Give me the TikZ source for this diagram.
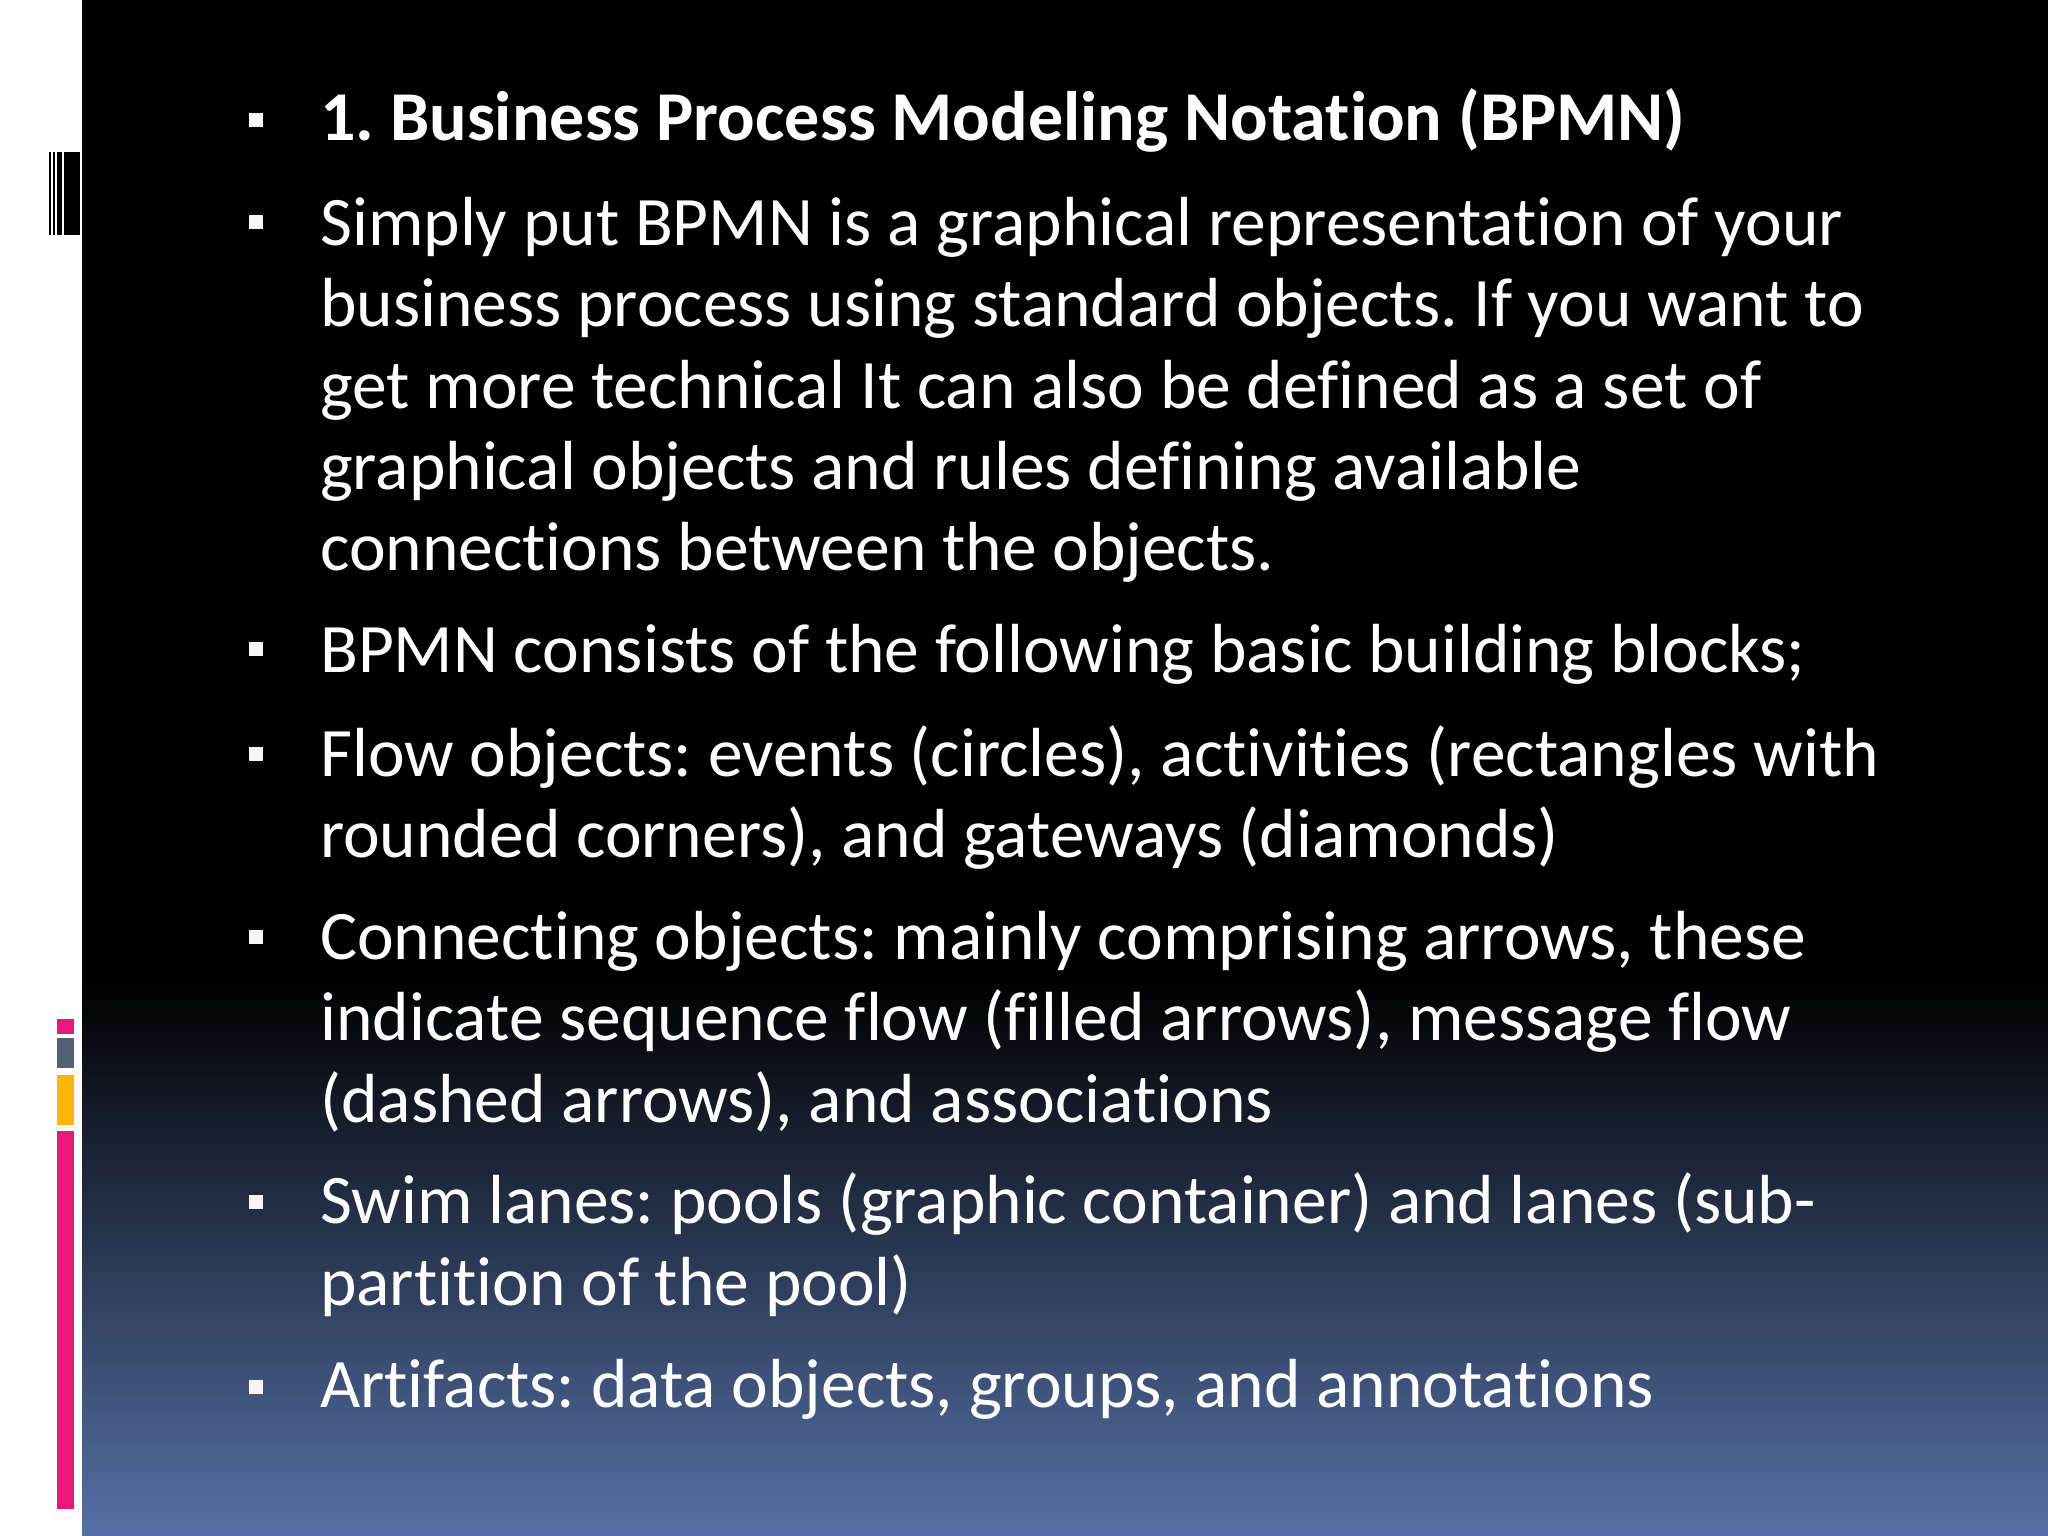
\documentclass[tikz,border=0pt]{standalone}
\usepackage{fontspec}
\setmainfont{Carlito}[Ligatures=NoCommon]
\definecolor{cpink}{RGB}{232,25,122}
\definecolor{cgray}{RGB}{85,96,115}
\definecolor{cyel}{RGB}{252,183,10}
\definecolor{cblue}{RGB}{86,113,166}
\frenchspacing
\begin{document}
\begin{tikzpicture}[x=1pt,y=1pt,
  ln/.style={anchor=base west,inner sep=0pt,text=white,font=\fontsize{69.5}{72}\selectfont},
  bul/.style={fill=white!92!gray,minimum size=14pt,inner sep=0pt}]
\useasboundingbox (0,0) rectangle (2048,1536);
\fill[white] (0,0) rectangle (2048,1536);
\fill[black] (82,0) rectangle (2048,1536);
\shade[top color=black,bottom color=cblue] (82,0) rectangle (2048,556);
% barcode
\foreach \a/\b in {49/51,53/55,57/62,64/80}{\fill[black] (\a,1301) rectangle (\b,1384);}
% coloured bars
\fill[cpink] (57,502) rectangle (74,517);
\fill[cgray] (57,468) rectangle (74,498);
\fill[cyel] (57,411) rectangle (74,461);
\fill[cpink] (57,27) rectangle (74,405);
% bullets
\foreach \y[count=\i] in {1416,1314,887,782,599,334,149}{\node[bul] (b\i) at (256,\y) {};}
\node[ln,font=\fontsize{70}{72}\selectfont\bfseries] (t0) at (320,1395) {1. Business Process Modeling Notation (BPMN)};
\node[ln] (t1) at (320,1290) {Simply put BPMN is a graphical representation of your};
\node[ln] (t2) at (320,1209) {business process using standard objects. If you want to};
\node[ln] (t3) at (320,1127) {get more technical It can also be defined as a set of};
\node[ln] (t4) at (320,1046) {graphical objects and rules defining available};
\node[ln] (t5) at (320,965) {connections between the objects.};
\node[ln] (t6) at (320,863) {BPMN consists of the following basic building blocks;};
\node[ln] (t7) at (320,759) {Flow objects: events (circles), activities (rectangles with};
\node[ln] (t8) at (320,678) {rounded corners), and gateways (diamonds)};
\node[ln] (t9) at (320,576) {Connecting objects: mainly comprising arrows, these};
\node[ln] (t10) at (320,495) {indicate sequence flow (filled arrows), message flow};
\node[ln] (t11) at (320,413) {(dashed arrows), and associations};
\node[ln] (t12) at (320,312) {Swim lanes: pools (graphic container) and lanes (sub-};
\node[ln] (t13) at (320,230) {partition of the pool)};
\node[ln] (t14) at (320,128) {Artifacts: data objects, groups, and annotations};
\end{tikzpicture}
\end{document}
